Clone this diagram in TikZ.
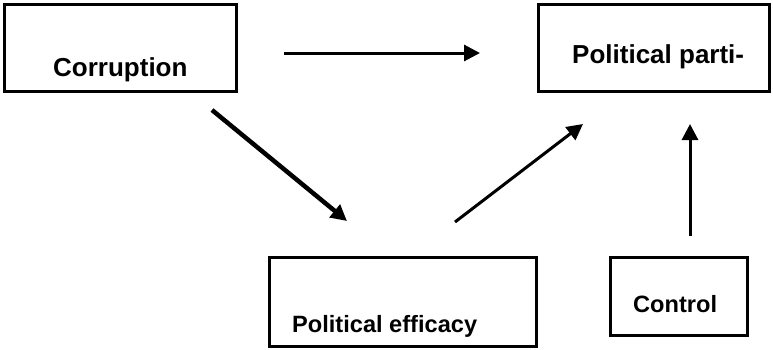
\documentclass[tikz,border=0pt]{standalone}
\usepackage{fontspec}
\setmainfont{Liberation Sans}
\usetikzlibrary{positioning,arrows.meta}

\begin{document}
\begin{tikzpicture}[ x=1pt, y=-1pt,
	box/.style={draw, line width=3pt, inner sep=0pt},
	big/.style={anchor=base west, inner sep=0pt, font=\fontsize{26}{30}\selectfont\bfseries},
	small/.style={anchor=base west, inner sep=0pt, font=\fontsize{23.6}{28}\selectfont\bfseries},
	arr/.style={line width=3pt, -{Triangle[length=16pt,width=16pt]}} ]
	\useasboundingbox (0,0) rectangle (773,349);
	\node[box, minimum width=232pt, minimum height=87pt] (a) at (120.5,48) {};
	\node[box, minimum width=231pt, minimum height=87pt] (b) at (654,48) {};
	\node[box, minimum width=267pt, minimum height=89pt] (c) at (403,302) {};
	\node[box, minimum width=137pt, minimum height=78pt] (d) at (679,296.5) {};
	\node[big] (na) at (53,76) {Corruption};
	\node[big] (nb) at (572,63) {Political parti-};
	\node[small] (nc) at (292,332) {Political efficacy};
	\node[small] (nd) at (633,312) {Control};
	% arrow ends
	\coordinate (ab1) at (284,53);
	\coordinate (ab2) at (480,53);
	\coordinate (ac1) at (212,110);
	\coordinate (ac2) at (347,221);
	\coordinate (cb1) at (455,222);
	\coordinate (cb2) at (583,124);
	\coordinate (db1) at (690,236);
	\coordinate (db2) at (690,124);
	\foreach \i in {ab,cb,db}
		\draw[arr] (\i1) -- (\i2);
	\draw[arr, line width=4.5pt] (ac1) -- (ac2);
\end{tikzpicture}
\end{document}
